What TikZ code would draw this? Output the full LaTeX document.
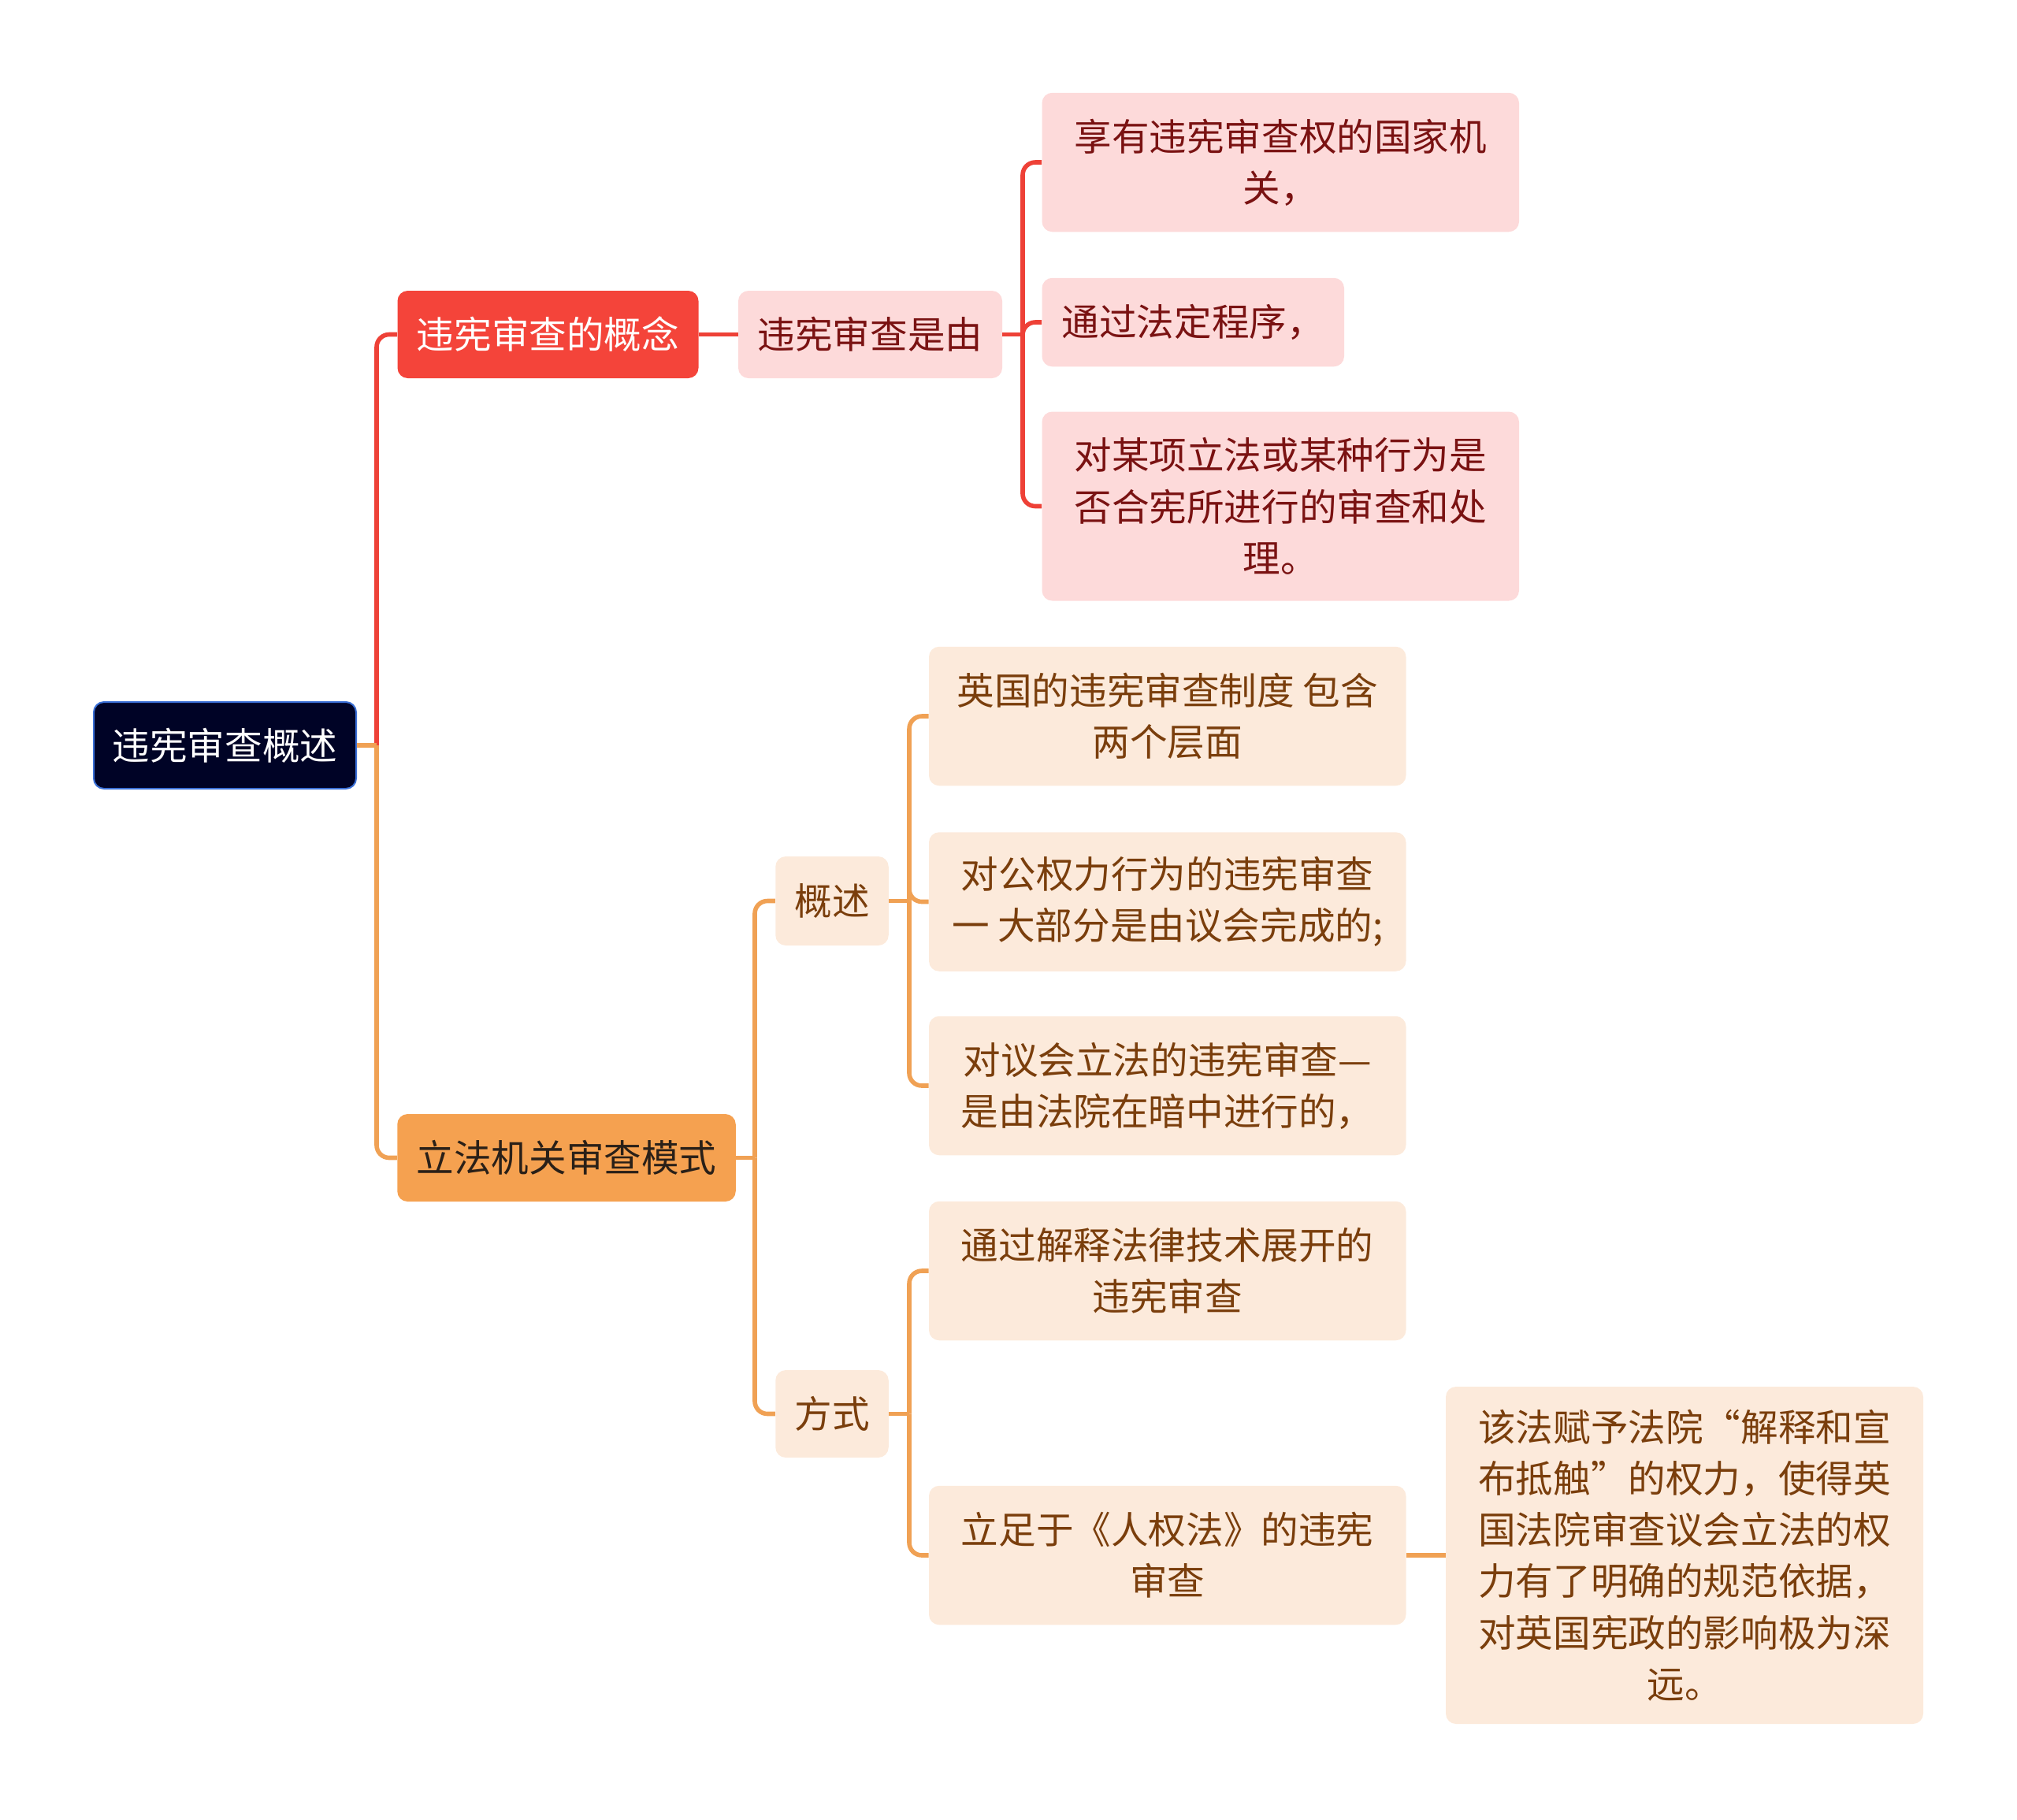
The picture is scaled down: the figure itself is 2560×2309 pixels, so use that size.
\documentclass[tikz,border=0pt]{standalone}
\usepackage{fontspec}
\setmainfont{Noto Sans CJK SC}
\definecolor{rootfill}{HTML}{000326}
\definecolor{rootdraw}{HTML}{3A6FD6}
\definecolor{redmain}{HTML}{F4443A}
\definecolor{redline}{HTML}{EE4137}
\definecolor{pinkfill}{HTML}{FDDADA}
\definecolor{redtext}{HTML}{7A1212}
\definecolor{orangemain}{HTML}{F5A150}
\definecolor{orangeline}{HTML}{F0A154}
\definecolor{creamfill}{HTML}{FCEADB}
\definecolor{browntext}{HTML}{7A3E0C}
\definecolor{darktext}{HTML}{2A2018}
\tikzset{
  box/.style={rectangle, rounded corners=6.5pt, inner sep=0pt, align=center,
    font=\fontsize{23.8}{32.6}\selectfont},
  rootbox/.style={box, fill=rootfill, draw=rootdraw, line width=1pt, text=white},
  redone/.style={box, fill=redmain, text=white},
  orangeone/.style={box, fill=orangemain, text=darktext},
  pinkbox/.style={box, fill=pinkfill, text=redtext},
  creambox/.style={box, fill=creamfill, text=browntext},
  redlink/.style={draw=redline, line width=2.8pt, rounded corners=8pt},
  orangelink/.style={draw=orangeline, line width=2.8pt, rounded corners=8pt},
}
\begin{document}
\begin{tikzpicture}[x=0.5pt,y=-0.5pt]
\useasboundingbox (0,0) rectangle (2560,2309);
% root
\node[rootbox, minimum width=166.5pt, minimum height=55pt] (root) at (285.5,946) {违宪审查概述};
% level 1
\node[redone, minimum width=191pt, minimum height=55.5pt] (gn) at (695.5,424.5) {违宪审查的概念};
\node[orangeone, minimum width=214.75pt, minimum height=55.5pt] (lf) at (719,1469.5) {立法机关审查模式};
% level 2
\node[pinkbox, minimum width=167.5pt, minimum height=55.5pt] (sy) at (1104.5,424.5) {违宪审查是由};
\node[creambox, minimum width=71.75pt, minimum height=56.5pt] (gs) at (1056,1143.5) {概述};
\node[creambox, minimum width=71.75pt, minimum height=55.5pt] (fs) at (1056,1794.5) {方式};
% level 3 red
\node[pinkbox, minimum width=302.75pt, minimum height=88.25pt] (r1) at (1625.25,206) {享有违宪审查权的国家机\\关，};
\node[pinkbox, minimum width=191.75pt, minimum height=56.25pt] (r2) at (1514.25,409) {通过法定程序，};
\node[pinkbox, minimum width=302.75pt, minimum height=120pt] (r3) at (1625.25,642.5) {对某项立法或某种行为是\\否合宪所进行的审查和处\\理。};
% level 3 orange
\node[creambox, minimum width=302.75pt, minimum height=88.25pt] (o1) at (1481.75,909) {英国的违宪审查制度 包含\\两个层面};
\node[creambox, minimum width=302.75pt, minimum height=88.25pt] (o2) at (1481.75,1144.5) {对公权力行为的违宪审查\\一 大部分是由议会完成的;};
\node[creambox, minimum width=302.75pt, minimum height=88.25pt] (o3) at (1481.75,1378) {对议会立法的违宪审查—\\是由法院在暗中进行的，};
\node[creambox, minimum width=302.75pt, minimum height=88.25pt] (o4) at (1481.75,1613) {通过解释法律技术展开的\\违宪审查};
\node[creambox, minimum width=302.75pt, minimum height=88.25pt] (o5) at (1481.75,1974) {立足于《人权法》的违宪\\审查};
\node[creambox, minimum width=303pt, minimum height=214pt] (o6) at (2138,1974) {该法赋予法院“解释和宣\\布抵触”的权力，使得英\\国法院审查议会立法的权\\力有了明确的规范依据，\\对英国宪政的影响极为深\\远。};
% connectors
\coordinate (jr) at (478,946);
\draw[redlink] (jr) |- (gn.west);
\draw[orangelink] (jr) |- (lf.west);
\draw[orangelink] (root.east) -- (jr);
\draw[redlink] (gn.east) -- (sy.west);
\coordinate (js) at (1298,424.5);
\draw[redlink] (js) |- (r1.west);
\draw[redlink] (js) |- (r2.west);
\draw[redlink] (js) |- (r3.west);
\draw[redlink] (sy.east) -- (js);
\coordinate (jl) at (958,1469.5);
\draw[orangelink] (jl) |- (gs.west);
\draw[orangelink] (jl) |- (fs.west);
\draw[orangelink] (lf.east) -- (jl);
\coordinate (jg) at (1154,1143.5);
\draw[orangelink] (jg) |- (o1.west);
\draw[orangelink] (jg) |- (o2.west);
\draw[orangelink] (jg) |- (o3.west);
\draw[orangelink] (gs.east) -- (jg);
\coordinate (jf) at (1154,1794.5);
\draw[orangelink] (jf) |- (o4.west);
\draw[orangelink] (jf) |- (o5.west);
\draw[orangelink] (fs.east) -- (jf);
\draw[orangelink] (o5.east) -- (o6.west);
\end{tikzpicture}
\end{document}
